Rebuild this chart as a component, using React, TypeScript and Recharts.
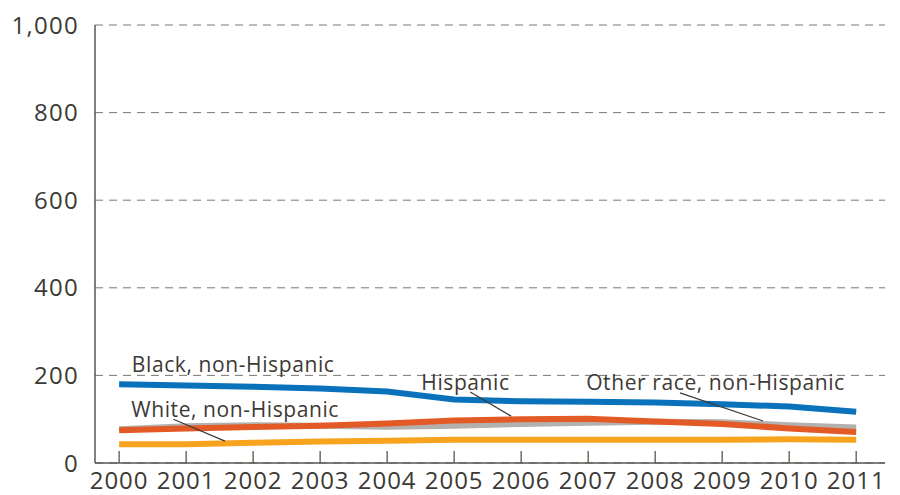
import { LineChart, Line, XAxis, YAxis, CartesianGrid, ReferenceLine, ReferenceDot } from 'recharts';

const years = [2000, 2001, 2002, 2003, 2004, 2005, 2006, 2007, 2008, 2009, 2010, 2011];
const black = [180, 177, 174, 170, 163, 145, 141, 140, 138, 134, 129, 117];
const hispanic = [75, 79, 82, 85, 90, 97, 100, 101, 95, 89, 79, 71];
const otherRace = [77, 84, 86, 85, 83, 85, 89, 92, 94, 93, 86, 81];
const white = [43, 43, 46, 49, 51, 53, 53, 53, 53, 53, 54, 53];
const yTicks = [0, 200, 400, 600, 800, 1000];

// annotation labels and leader lines, in data units
const labels = [
  { text: 'Black, non-Hispanic', x: 2000.19, y: 208 },
  { text: 'White, non-Hispanic', x: 2000.18, y: 105 },
  { text: 'Hispanic', x: 2004.51, y: 167 },
  { text: 'Other race, non-Hispanic', x: 2006.97, y: 167 }
];
const leaders = [
  [{ x: 2000.81, y: 100 }, { x: 2001.58, y: 50 }],
  [{ x: 2005.24, y: 162 }, { x: 2005.85, y: 107 }],
  [{ x: 2008.37, y: 160 }, { x: 2009.61, y: 96 }]
];

const data = years.map((year, i) => ({
  year,
  black: black[i],
  hispanic: hispanic[i],
  otherRace: otherRace[i],
  white: white[i]
}));

const FONT = '"Open Sans", Lato, sans-serif';
const AXIS = '#5a5550';
const TEXT = '#3d3935';

function YearTick(props: any) {
  const { x, y, payload } = props;
  return (
    <g>
      <line x1={x} x2={x} y1={y - 12} y2={y} stroke={AXIS} strokeWidth={1.3} />
      <text x={x} y={y + 26} textAnchor="middle" fill={TEXT} fontSize={24} letterSpacing={1} fontFamily={FONT}>
        {payload.value}
      </text>
    </g>
  );
}

export default function App() {
  return (
    <div style={{ position: 'absolute', left: 0, top: 0, background: '#fff' }}>
      <LineChart width={900} height={495} data={data} margin={{ top: 25, right: 15, bottom: 0, left: 0 }}>
        <CartesianGrid vertical={false} stroke="#7a7672" strokeDasharray="8 6" strokeWidth={1} />
        <XAxis
          dataKey="year"
          type="number"
          domain={[1999.64, 2011.43]}
          ticks={years}
          height={32}
          axisLine={{ stroke: AXIS, strokeWidth: 1.5 }}
          tickLine={false}
          tickSize={0}
          tickMargin={0}
          tick={<YearTick />}
          interval={0}
        />
        <YAxis
          domain={[0, 1000]}
          ticks={yTicks}
          width={95}
          axisLine={{ stroke: AXIS, strokeWidth: 1.5 }}
          tickLine={false}
          tickSize={0}
          tickMargin={16}
          tick={{ fill: TEXT, fontSize: 24, fontFamily: FONT, letterSpacing: 1.3 }}
          tickFormatter={(v: number) => v.toLocaleString('en-US')}
        />
        <Line dataKey="otherRace" stroke="#b3b0ad" strokeWidth={6} dot={false} isAnimationActive={false} />
        <Line dataKey="hispanic" stroke="#e35a26" strokeWidth={6} dot={false} isAnimationActive={false} />
        <Line dataKey="white" stroke="#f7a31e" strokeWidth={6} dot={false} isAnimationActive={false} />
        <Line dataKey="black" stroke="#0a72ba" strokeWidth={6} dot={false} isAnimationActive={false} />
        {leaders.map((seg, i) => (
          <ReferenceLine key={i} segment={seg} stroke="#3d3935" strokeWidth={1.2} ifOverflow="visible" />
        ))}
        {labels.map((l) => (
          <ReferenceDot
            key={l.text}
            x={l.x}
            y={l.y}
            r={0}
            ifOverflow="visible"
            shape={(p: any) => (
              <text x={p.cx} y={p.cy} fill={TEXT} fontSize={21} letterSpacing={0.6} fontFamily={FONT}>
                {l.text}
              </text>
            )}
          />
        ))}
      </LineChart>
    </div>
  );
}
